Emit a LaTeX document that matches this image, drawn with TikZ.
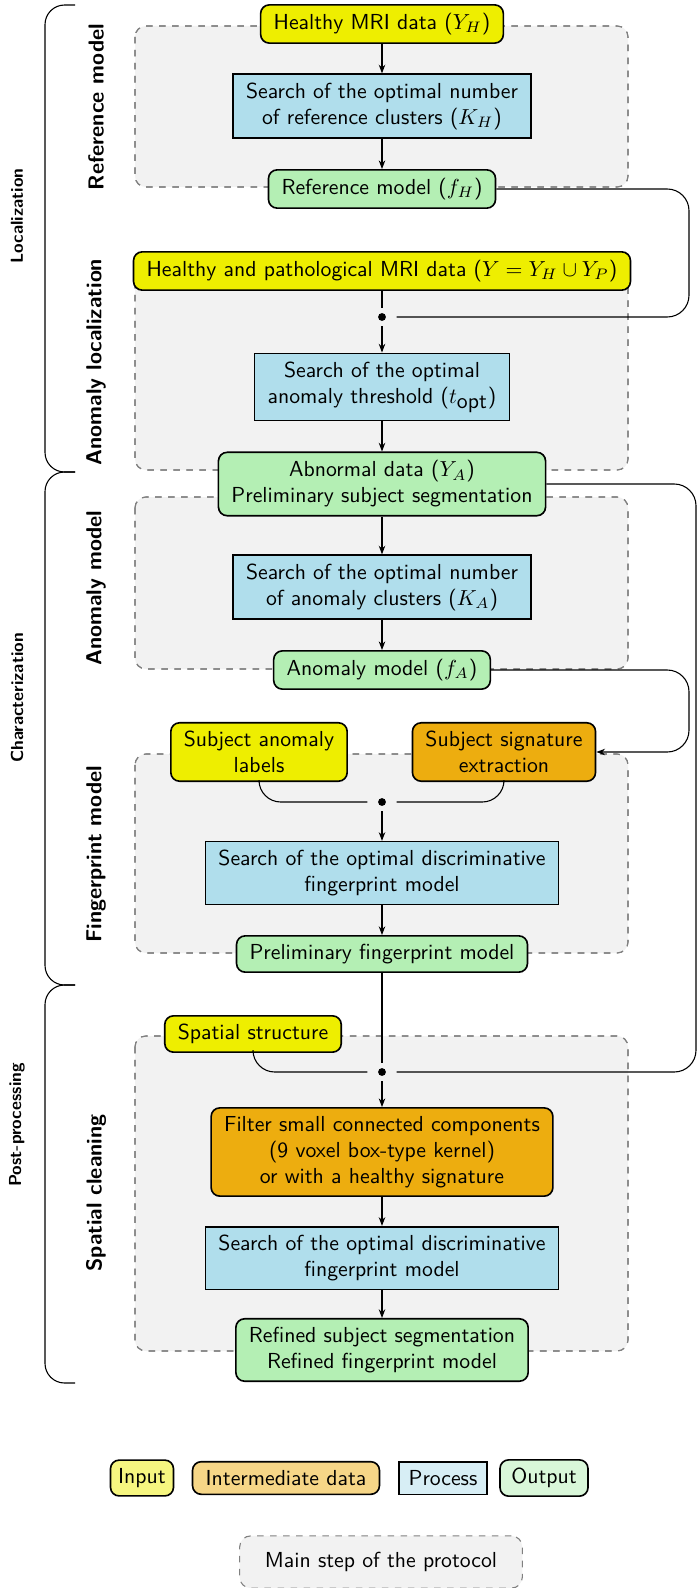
\documentclass[tikz,border=0pt]{standalone}
\usepackage{xcolor}
\definecolor{input-yellow}{HTML}{EEEE00}
\definecolor{inter-orange}{HTML}{EDAD0F}
\definecolor{process-blue}{HTML}{B0DEEC}
\definecolor{output-green}{HTML}{B4EFB4}
\definecolor{step-gray}{HTML}{F2F2F2}
\usepackage{tikz}
\usetikzlibrary{arrows.meta}

\tikzset{
    base/.style={draw, line width=0.75pt, font=\sffamily, align=center, inner xsep=6pt, inner ysep=3.8pt},
    inputbox/.style={base, rounded corners=4pt, fill=input-yellow},
    interbox/.style={base, rounded corners=4pt, fill=inter-orange},
    processbox/.style={base, fill=process-blue},
    outputbox/.style={base, rounded corners=4pt, fill=output-green},
    legendbox/.style={inner xsep=2pt, minimum height=15pt},
    stepgroup/.style={draw=gray, dashed, fill=step-gray, rounded corners=5pt, line width=0.5pt},
    junction/.style={inner sep=0pt, minimum width=13pt, minimum height=8pt,
        path picture={\fill (path picture bounding box.center) circle (1.8pt);}},
    steplabel/.style={font=\sffamily\bfseries, rotate=90},
    phaselabel/.style={font=\sffamily\bfseries\footnotesize, rotate=90},
    link/.style={-{Stealth[length=4pt,width=3pt]}},
}

\begin{document}
\begin{tikzpicture}[x=0.46pt, y=-0.46pt, line width=0.5pt]

    \useasboundingbox (0, 0) rectangle (697, 1588);

    % Main steps
    \fill[stepgroup] (135, 26) rectangle (628, 187);
    \fill[stepgroup] (135, 271) rectangle (628, 470);
    \fill[stepgroup] (135, 497) rectangle (628, 669);
    \fill[stepgroup] (135, 754) rectangle (628, 953);
    \fill[stepgroup] (135, 1036) rectangle (628, 1351);
    \draw[stepgroup, fill=none] (135, 26) rectangle (628, 187);
    \draw[stepgroup, fill=none] (135, 271) rectangle (628, 470);
    \draw[stepgroup, fill=none] (135, 497) rectangle (628, 669);
    \draw[stepgroup, fill=none] (135, 754) rectangle (628, 953);
    \draw[stepgroup, fill=none] (135, 1036) rectangle (628, 1351);

    % Phases
    \draw[rounded corners=9pt] (75, 5) -- (45, 5) -- (45, 472) -- (75, 472);
    \draw[rounded corners=9pt] (75, 472) -- (45, 472) -- (45, 985) -- (75, 985);
    \draw[rounded corners=9pt] (75, 985) -- (45, 985) -- (45, 1383) -- (75, 1383);
    \node[phaselabel] (locLbl) at (17, 216) {Localization};
    \node[phaselabel] (charLbl) at (17, 698) {Characterization};
    \node[phaselabel] (postLbl) at (17, 1125) {Post-processing};

    \node[steplabel] (refLbl) at (96, 107) {Reference model};
    \node[steplabel] (locStepLbl) at (96, 362) {Anomaly localization};
    \node[steplabel] (anoLbl) at (96, 588) {Anomaly model};
    \node[steplabel] (fpLbl) at (96, 854) {Fingerprint model};
    \node[steplabel] (spLbl) at (96, 1193) {Spatial cleaning};

    % Reference model
    \node[inputbox] (inH) at (382, 24) {Healthy MRI data ($Y_H$)};
    \node[processbox] (srchKH) at (382, 106) {Search of the optimal number\\of reference clusters ($K_H$)};
    \node[outputbox] (refM) at (382, 189) {Reference model ($f_H$)};

    % Anomaly localization
    \node[inputbox] (inY) at (382, 271) {Healthy and pathological MRI data ($Y = Y_H \cup Y_P$)};
    \node[junction] (j1) at (382, 317) {};
    \node[processbox] (srchT) at (382, 387) {Search of the optimal\\anomaly threshold ($t_{\textsf{opt}}$)};
    \node[outputbox] (abn) at (382, 484) {Abnormal data ($Y_A$)\\Preliminary subject segmentation};

    % Anomaly model
    \node[processbox] (srchKA) at (382, 587) {Search of the optimal number\\of anomaly clusters ($K_A$)};
    \node[outputbox] (anoM) at (382, 670) {Anomaly model ($f_A$)};

    % Fingerprint model
    \node[inputbox] (labels) at (259, 752) {Subject anomaly\\labels};
    \node[interbox] (sig) at (504, 752) {Subject signature\\extraction};
    \node[junction] (j2) at (382, 802) {};
    \node[processbox] (srchFP) at (382, 873) {Search of the optimal discriminative\\fingerprint model};
    \node[outputbox] (prelFP) at (382, 954) {Preliminary fingerprint model};

    % Spatial cleaning
    \node[inputbox] (spat) at (253, 1034) {Spatial structure};
    \node[junction] (j3) at (382, 1072) {};
    \node[interbox] (filt) at (382, 1152) {Filter small connected components\\(9 voxel box-type kernel)\\or with a healthy signature};
    \node[processbox] (srchFP2) at (382, 1258) {Search of the optimal discriminative\\fingerprint model};
    \node[outputbox] (refd) at (382, 1350) {Refined subject segmentation\\Refined fingerprint model};

    % Links
    \draw[link] (inH) -- (srchKH);
    \draw[link] (srchKH) -- (refM);
    \draw[rounded corners=10pt] (refM.east) -- (689, 189) -- (689, 317) -- (j1);
    \draw (inY) -- (j1);
    \draw[link] (j1) -- (srchT);
    \draw[link] (srchT) -- (abn);
    \draw[link] (abn) -- (srchKA);
    \draw[link] (srchKA) -- (anoM);
    \draw[link, rounded corners=10pt] (anoM.east) -- (689, 670) -- (689, 752) -- (sig.east);
    \draw[rounded corners=10pt] (labels.south) |- (j2);
    \draw[rounded corners=10pt] (sig.south) |- (j2);
    \draw[link] (j2) -- (srchFP);
    \draw[link] (srchFP) -- (prelFP);
    \draw (prelFP) -- (j3);
    \draw[rounded corners=10pt] (spat.south) |- (j3);
    \draw[rounded corners=10pt] (abn.east) -- (696, 484) -- (696, 1072) -- (j3);
    \draw[link] (j3) -- (filt);
    \draw[link] (filt) -- (srchFP2);
    \draw[link] (srchFP2) -- (refd);

    % Legend
    \node[inputbox, legendbox, fill=input-yellow!50, minimum width=29pt] (lgIn) at (142, 1478) {Input};
    \node[interbox, legendbox, fill=inter-orange!50, minimum width=86pt] (lgInter) at (286, 1478) {Intermediate data};
    \node[processbox, legendbox, fill=process-blue!50, minimum width=40.5pt] (lgProc) at (443, 1478) {Process};
    \node[outputbox, legendbox, fill=output-green!50, minimum width=40.5pt] (lgOut) at (544, 1478) {Output};
    \node[stepgroup, font=\sffamily, minimum width=130pt, minimum height=24pt] (lgStep) at (381, 1562) {Main step of the protocol};

\end{tikzpicture}
\end{document}
